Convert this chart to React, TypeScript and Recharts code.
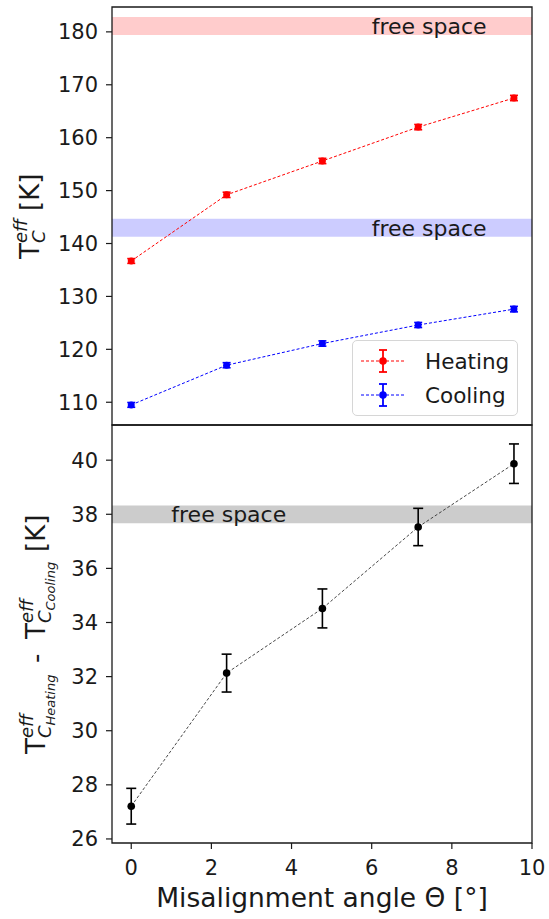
import React from "react";
import {
  ComposedChart,
  Line,
  ErrorBar,
  XAxis,
  YAxis,
  ReferenceArea,
  ReferenceDot,
  Legend,
  Label,
} from "recharts";

// misalignment angle in degrees
const angles = [0, 2.38, 4.77, 7.16, 9.55];

// effective critical temperature, heating and cooling branches [K]
const heating = [136.7, 149.2, 155.6, 162.0, 167.5];
const heatingErr = [0.45, 0.5, 0.5, 0.5, 0.5];
const cooling = [109.5, 117.0, 121.1, 124.6, 127.6];
const coolingErr = [0.45, 0.48, 0.5, 0.48, 0.52];

// hysteresis width (heating - cooling) [K]
const hysteresis = [27.21, 32.13, 34.52, 37.53, 39.87];
const hysteresisErr = [0.66, 0.7, 0.72, 0.69, 0.73];

// free-space reference bands [low, high]
const heatingFree = [179.4, 182.8];
const coolingFree = [141.3, 144.7];
const hysteresisFree = [37.67, 38.32];

const xTicks = [0, 2, 4, 6, 8, 10];
const topTicks = [110, 120, 130, 140, 150, 160, 170, 180];
const bottomTicks = [26, 28, 30, 32, 34, 36, 38, 40];

const xDomain: [number, number] = [-0.48, 10.0];
const topDomain: [number, number] = [105.7, 184.7];
const bottomDomain: [number, number] = [25.85, 41.3];

const FONT = "DejaVu Sans, Verdana, sans-serif";
const INK = "#1a1a1a";

const data = angles.map((a, i) => ({
  angle: a,
  heating: heating[i],
  heatingErr: heatingErr[i],
  cooling: cooling[i],
  coolingErr: coolingErr[i],
  diff: hysteresis[i],
  diffErr: hysteresisErr[i],
}));

const tickStyle = { fontSize: 21, fontFamily: FONT, fill: INK };

type Piece = { t: string; u: number; v: number; size: number; italic?: boolean };

// rotated multi-part axis title (math-like sub/superscripts)
function RotatedTitle({ cx, cy, pieces, width }: { cx: number; cy: number; pieces: Piece[]; width: number }) {
  const u0 = -width / 2;
  return (
    <g transform={`translate(${cx},${cy}) rotate(-90)`}>
      {pieces.map((p, i) => (
        <text
          key={i}
          x={u0 + p.u}
          y={p.v}
          fontSize={p.size}
          fontFamily={FONT}
          fontStyle={p.italic ? "italic" : "normal"}
          fill={INK}
        >
          {p.t}
        </text>
      ))}
    </g>
  );
}

const topTitle: Piece[] = [
  { t: "T", u: 0, v: 0, size: 26 },
  { t: "eff", u: 15.9, v: -12, size: 18, italic: true },
  { t: "C", u: 15.9, v: 6, size: 18, italic: true },
  { t: "[K]", u: 48, v: 0, size: 26 },
];

const bottomTitle: Piece[] = [
  { t: "T", u: 0, v: 0, size: 26 },
  { t: "eff", u: 15.9, v: -12, size: 18, italic: true },
  { t: "C", u: 15.9, v: 6, size: 18, italic: true },
  { t: "Heating", u: 28.5, v: 10, size: 13, italic: true },
  { t: "-", u: 91, v: 0, size: 26 },
  { t: "T", u: 115, v: 0, size: 26 },
  { t: "eff", u: 130.9, v: -12, size: 18, italic: true },
  { t: "C", u: 130.9, v: 6, size: 18, italic: true },
  { t: "Cooling", u: 143.5, v: 10, size: 13, italic: true },
  { t: "[K]", u: 202, v: 0, size: 26 },
];

function FreeSpaceText(props: any) {
  const vb = props.viewBox || {};
  const x = vb.x + (vb.width || 0) / 2;
  const y = vb.y + (vb.height || 0) / 2;
  return (
    <text x={x} y={y} dy="0.36em" fontSize={22} fontFamily={FONT} fill={INK}>
      free space
    </text>
  );
}

function LegendMark({ color }: { color: string }) {
  return (
    <svg width={44} height={30} style={{ display: "block" }}>
      <line x1={0} y1={15} x2={44} y2={15} stroke={color} strokeWidth={1} strokeDasharray="3 2" />
      <line x1={22} y1={4} x2={22} y2={26} stroke={color} strokeWidth={1.8} />
      <line x1={18} y1={4} x2={26} y2={4} stroke={color} strokeWidth={1.8} />
      <line x1={18} y1={26} x2={26} y2={26} stroke={color} strokeWidth={1.8} />
      <circle cx={22} cy={15} r={3.8} fill={color} />
    </svg>
  );
}

function SeriesLegend() {
  const rows = [
    { name: "Heating", color: "#ff0000" },
    { name: "Cooling", color: "#0000ff" },
  ];
  return (
    <div
      style={{
        border: "1px solid #d6d6d6",
        borderRadius: 5,
        background: "rgba(255,255,255,0.85)",
        padding: "3px 8px 3px 8px",
        fontFamily: FONT,
        fontSize: 21.5,
        color: INK,
      }}
    >
      {rows.map((r) => (
        <div key={r.name} style={{ display: "flex", alignItems: "center", height: 34 }}>
          <LegendMark color={r.color} />
          <span style={{ marginLeft: 20 }}>{r.name}</span>
        </div>
      ))}
    </div>
  );
}

export default function App() {
  return (
    <div style={{ position: "absolute", left: 0, top: 0, width: 549, height: 919, background: "#fff" }}>
      {/* upper panel: effective Tc for both sweep directions */}
      <div style={{ position: "absolute", left: 0, top: 0 }}>
        <ComposedChart width={549} height={426} data={data} margin={{ top: 7, right: 17, bottom: 1, left: 0 }}>
          <XAxis dataKey="angle" type="number" domain={xDomain} ticks={xTicks} allowDataOverflow hide />
          <YAxis
            type="number"
            domain={topDomain}
            ticks={topTicks}
            allowDataOverflow
            width={112}
            axisLine={false}
            tickSize={6}
            tickMargin={8}
            tickLine={{ stroke: INK, strokeWidth: 1.2 }}
            tick={tickStyle}
          >
            <Label content={(p: any) => <RotatedTitle cx={39} cy={p.viewBox.y + p.viewBox.height / 2} pieces={topTitle} width={86} />} />
          </YAxis>
          <ReferenceArea y1={heatingFree[0]} y2={heatingFree[1]} fill="#ff0000" fillOpacity={0.2} stroke="none" />
          <ReferenceArea y1={coolingFree[0]} y2={coolingFree[1]} fill="#0000ff" fillOpacity={0.2} stroke="none" />
          <ReferenceDot x={6} y={(heatingFree[0] + heatingFree[1]) / 2} r={0} fill="none" stroke="none" label={<FreeSpaceText />} />
          <ReferenceDot x={6} y={(coolingFree[0] + coolingFree[1]) / 2} r={0} fill="none" stroke="none" label={<FreeSpaceText />} />
          <ReferenceArea
            x1={xDomain[0]}
            x2={xDomain[1]}
            y1={topDomain[0]}
            y2={topDomain[1]}
            fill="none"
            stroke={INK}
            strokeWidth={1.3}
          />
          <Line
            dataKey="heating"
            type="linear"
            stroke="#ff0000"
            strokeWidth={1}
            strokeDasharray="3 2"
            dot={{ r: 3.5, fill: "#ff0000", stroke: "#ff0000", strokeWidth: 0 }}
            activeDot={false}
            isAnimationActive={false}
          >
            <ErrorBar dataKey="heatingErr" direction="y" width={4} stroke="#ff0000" strokeWidth={1.6} />
          </Line>
          <Line
            dataKey="cooling"
            type="linear"
            stroke="#0000ff"
            strokeWidth={1}
            strokeDasharray="3 2"
            dot={{ r: 3.5, fill: "#0000ff", stroke: "#0000ff", strokeWidth: 0 }}
            activeDot={false}
            isAnimationActive={false}
          >
            <ErrorBar dataKey="coolingErr" direction="y" width={4} stroke="#0000ff" strokeWidth={1.6} />
          </Line>
          <Legend
            layout="vertical"
            align="center"
            verticalAlign="middle"
            content={() => <SeriesLegend />}
            wrapperStyle={{ left: 352, top: 340, width: "auto", height: "auto" }}
          />
        </ComposedChart>
      </div>

      {/* lower panel: hysteresis width */}
      <div style={{ position: "absolute", left: 0, top: 418 }}>
        <ComposedChart width={549} height={501} data={data} margin={{ top: 7, right: 17, bottom: 0, left: 0 }}>
          <XAxis
            dataKey="angle"
            type="number"
            domain={xDomain}
            ticks={xTicks}
            allowDataOverflow
            height={76}
            axisLine={false}
            tickSize={6}
            tickMargin={11}
            tickLine={{ stroke: INK, strokeWidth: 1.2 }}
            tick={tickStyle}
          >
            <Label
              content={(p: any) => (
                <text
                  x={p.viewBox.x + p.viewBox.width / 2}
                  y={p.viewBox.y + 64}
                  textAnchor="middle"
                  fontSize={26.5}
                  fontFamily={FONT}
                  fill={INK}
                >
                  Misalignment angle Θ [°]
                </text>
              )}
            />
          </XAxis>
          <YAxis
            type="number"
            domain={bottomDomain}
            ticks={bottomTicks}
            allowDataOverflow
            width={112}
            axisLine={false}
            tickSize={6}
            tickMargin={8}
            tickLine={{ stroke: INK, strokeWidth: 1.2 }}
            tick={tickStyle}
          >
            <Label content={(p: any) => <RotatedTitle cx={45} cy={p.viewBox.y + p.viewBox.height / 2} pieces={bottomTitle} width={240} />} />
          </YAxis>
          <ReferenceArea y1={hysteresisFree[0]} y2={hysteresisFree[1]} fill="#808080" fillOpacity={0.4} stroke="none" />
          <ReferenceDot x={1} y={(hysteresisFree[0] + hysteresisFree[1]) / 2} r={0} fill="none" stroke="none" label={<FreeSpaceText />} />
          <ReferenceArea
            x1={xDomain[0]}
            x2={xDomain[1]}
            y1={bottomDomain[0]}
            y2={bottomDomain[1]}
            fill="none"
            stroke={INK}
            strokeWidth={1.3}
          />
          <Line
            dataKey="diff"
            type="linear"
            stroke="#333333"
            strokeWidth={0.9}
            strokeDasharray="3 2"
            dot={{ r: 3.8, fill: "#000", stroke: "#000", strokeWidth: 0 }}
            activeDot={false}
            isAnimationActive={false}
          >
            <ErrorBar dataKey="diffErr" direction="y" width={5} stroke="#000" strokeWidth={1.6} />
          </Line>
        </ComposedChart>
      </div>
    </div>
  );
}
